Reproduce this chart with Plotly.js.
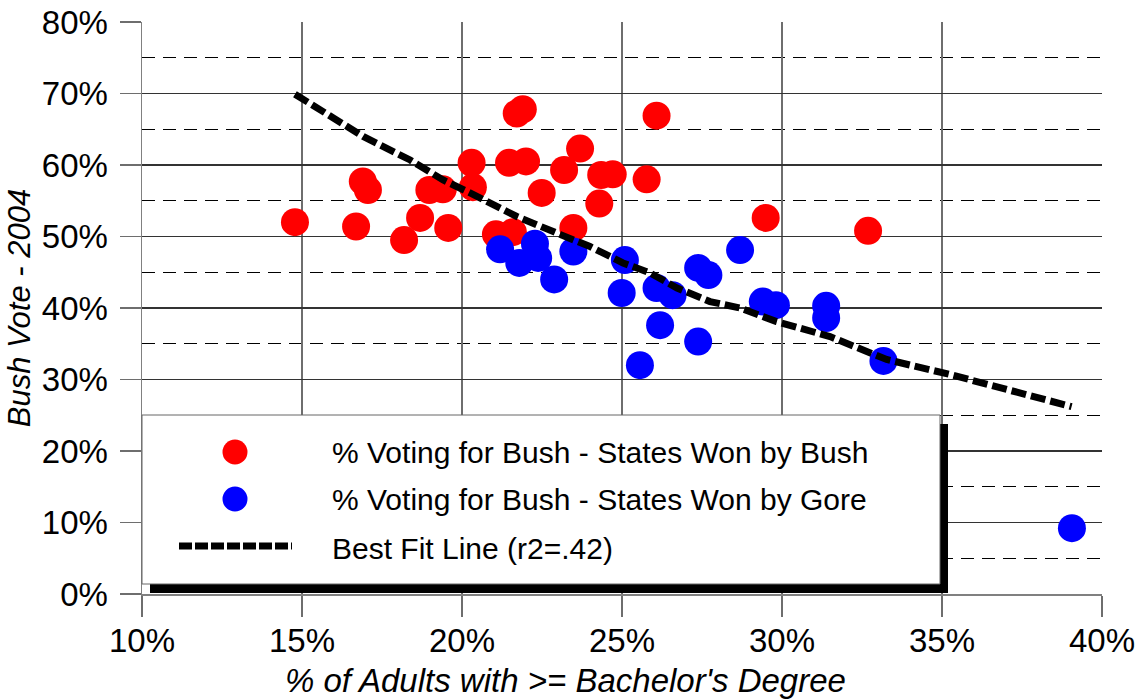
<!DOCTYPE html>
<html>
<head>
<meta charset="utf-8">
<script src="https://cdn.plot.ly/plotly-3.0.1.min.js"></script>
<style>html,body{margin:0;padding:0;background:#fff;}#chart{width:1140px;height:700px;}</style>
</head>
<body>
<div id="chart"></div>
<script>
// % of adults with >= bachelor's degree (x) and % voting for Bush (y)
const bushStatesEdu = [14.78, 16.69, 16.90, 17.06, 18.19, 18.69, 18.98, 19.40, 19.57, 20.30, 20.34, 21.06, 21.47, 21.59, 21.71, 21.90, 22.00, 22.49, 23.19, 23.48, 23.69, 24.29, 24.35, 24.71, 25.77, 26.08, 29.49, 32.69];
const bushStatesVote = [52.0, 51.4, 57.7, 56.5, 49.5, 52.6, 56.5, 56.6, 51.2, 60.3, 56.9, 50.3, 60.3, 50.6, 67.2, 67.8, 60.5, 56.1, 59.3, 51.2, 62.3, 54.6, 58.6, 58.7, 58.0, 66.9, 52.6, 50.8];

const goreStatesEdu = [21.19, 21.79, 22.28, 22.38, 22.88, 23.48, 25.09, 24.99, 26.08, 26.58, 26.19, 25.56, 27.38, 27.70, 27.38, 28.69, 29.40, 29.81, 31.38, 31.38, 33.17, 39.06];
const goreStatesVote = [48.2, 46.3, 49.0, 47.0, 44.0, 47.9, 46.7, 42.1, 42.8, 41.8, 37.6, 32.0, 45.6, 44.6, 35.3, 48.1, 40.9, 40.4, 40.3, 38.6, 32.6, 9.2];

const fitEdu = [14.78, 16.59, 16.91, 18.38, 19.41, 20.25, 21.71, 23.06, 24.00, 25.03, 25.88, 26.72, 27.75, 28.69, 29.83, 31.50, 33.27, 35.34, 39.05];
const fitVote = [69.9, 64.9, 64.0, 60.7, 57.9, 56.1, 52.8, 50.3, 48.6, 46.3, 44.9, 42.8, 40.9, 40.0, 38.1, 36.0, 32.8, 30.6, 26.2];

const xTicks = [10, 15, 20, 25, 30, 35, 40];
const yTicks = [0, 10, 20, 30, 40, 50, 60, 70, 80];

const legendLabels = ["% Voting for Bush - States Won by Bush", "% Voting for Bush - States Won by Gore", "Best Fit Line (r2=.42)"];
const xTitle = "% of Adults with >= Bachelor's Degree";
const yTitle = "Bush Vote - 2004";

const FONT = "Liberation Sans, Arial, sans-serif";
const RED = "#ff0000", BLUE = "#0000ff";

const traces = [
  {x: bushStatesEdu, y: bushStatesVote, type: "scatter", mode: "markers", name: legendLabels[0],
   marker: {color: RED, size: 28, line: {width: 0}}, cliponaxis: false},
  {x: goreStatesEdu, y: goreStatesVote, type: "scatter", mode: "markers", name: legendLabels[1],
   marker: {color: BLUE, size: 28, line: {width: 0}}, cliponaxis: false},
  {x: fitEdu, y: fitVote, type: "scatter", mode: "lines", name: legendLabels[2],
   line: {color: "#000", width: 7, dash: "15px,5px"}, cliponaxis: false}
];

// legend geometry in paper coordinates
const px = v => (v - 142) / 960, py = v => (594 - v) / 572;
const rx = 12.5 / 960, ry = 12.5 / 572;
const shapes = [
  {type: "rect", xref: "paper", yref: "paper", layer: "above", x0: px(150), x1: px(948), y0: py(593), y1: py(424),
   fillcolor: "#000", line: {width: 0}},
  {type: "rect", xref: "paper", yref: "paper", layer: "above", x0: px(142), x1: px(940), y0: py(584), y1: py(415),
   fillcolor: "#fff", line: {color: "#666", width: 1}},
  {type: "circle", xref: "paper", yref: "paper", layer: "above", x0: px(235) - rx, x1: px(235) + rx, y0: py(452) - ry, y1: py(452) + ry,
   fillcolor: RED, line: {width: 0}},
  {type: "circle", xref: "paper", yref: "paper", layer: "above", x0: px(235) - rx, x1: px(235) + rx, y0: py(499) - ry, y1: py(499) + ry,
   fillcolor: BLUE, line: {width: 0}},
  {type: "line", xref: "paper", yref: "paper", layer: "above", x0: px(179), x1: px(292), y0: py(546), y1: py(546),
   line: {color: "#000", width: 7, dash: "13px,3px"}}
];
const annotations = [
  {xref: "paper", yref: "paper", x: px(330), y: py(452), xanchor: "left", yanchor: "middle", showarrow: false,
   text: legendLabels[0], font: {family: FONT, size: 30, color: "#000"}},
  {xref: "paper", yref: "paper", x: px(330), y: py(499), xanchor: "left", yanchor: "middle", showarrow: false,
   text: legendLabels[1], font: {family: FONT, size: 30, color: "#000"}},
  {xref: "paper", yref: "paper", x: px(330), y: py(548), xanchor: "left", yanchor: "middle", showarrow: false,
   text: legendLabels[2], font: {family: FONT, size: 30, color: "#000"}},
  {xref: "paper", yref: "paper", x: px(565), y: py(680), xanchor: "center", yanchor: "middle", showarrow: false,
   text: "<i>" + xTitle + "</i>", font: {family: FONT, size: 33, color: "#000"}}
];

const layout = {
  width: 1140, height: 700,
  margin: {l: 142, r: 38, t: 22, b: 106},
  paper_bgcolor: "#fff", plot_bgcolor: "#fff",
  showlegend: false,
  font: {family: FONT, color: "#000"},
  xaxis: {
    range: [10, 40], tickvals: xTicks, ticktext: xTicks.map(v => v + "%"),
    showgrid: true, gridcolor: "#6e6e6e", gridwidth: 1.5,
    zeroline: false, showline: true, linecolor: "#808080", linewidth: 1.5,
    ticks: "outside", ticklen: 21, tickcolor: "#6e6e6e", tickwidth: 1.5,
    ticklabelstandoff: -4,
    tickfont: {family: FONT, size: 33, color: "#000"}
  },
  yaxis: {
    range: [0, 80], tickvals: yTicks, ticktext: yTicks.map(v => v + "%"),
    showgrid: true, gridcolor: "#333", gridwidth: 1.5,
    minor: {dtick: 5, tick0: 0, showgrid: true, gridcolor: "#000", gridwidth: 1, griddash: "13px,8px", ticks: ""},
    zeroline: false, showline: true, linecolor: "#808080", linewidth: 1.5,
    ticks: "outside", ticklen: 21, tickcolor: "#6e6e6e", tickwidth: 1.5,
    ticklabelstandoff: 5,
    tickfont: {family: FONT, size: 33, color: "#000"},
    title: {text: "<i>" + yTitle + "</i>", font: {family: FONT, size: 31, color: "#000"}, standoff: 2}
  },
  shapes: shapes,
  annotations: annotations
};

Plotly.newPlot("chart", traces, layout, {displayModeBar: false, staticPlot: true});
</script>
</body>
</html>
